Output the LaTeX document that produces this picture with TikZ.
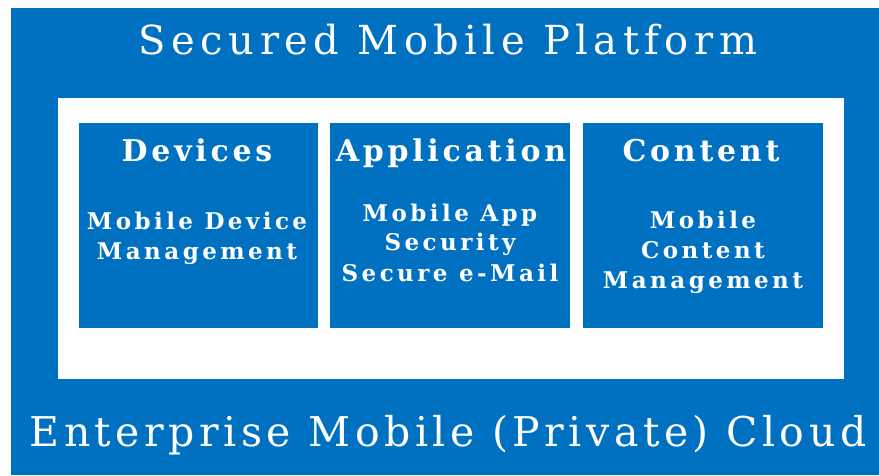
\documentclass[tikz,border=0pt]{standalone}
\usepackage{fontspec}
\setmainfont{DejaVu Serif}
\newfontfamily\titlefont[LetterSpace=13.7]{DejaVu Serif}
\newfontfamily\cloudfont[LetterSpace=11]{DejaVu Serif}
\newfontfamily\boxfont[LetterSpace=15]{DejaVu Serif Bold}
\newfontfamily\headfont[LetterSpace=12.5]{DejaVu Serif Bold}
\definecolor{platblue}{HTML}{0070C0}
\begin{document}
\begin{tikzpicture}[x=1pt,y=-1pt,
  bigtext/.style={text=white,anchor=base,inner sep=0pt,font=\titlefont\fontsize{40}{42}\selectfont},
  cloudtext/.style={text=white,anchor=base,inner sep=0pt,font=\cloudfont\fontsize{41}{43}\selectfont},
  headtext/.style={text=white,anchor=base,inner sep=0pt,font=\headfont\fontsize{30}{32}\selectfont},
  bodytext/.style={text=white,anchor=base,inner sep=0pt,font=\boxfont\fontsize{23}{25}\selectfont},
  area/.style={draw=none,fill=platblue}]
\useasboundingbox (0,0) rectangle (879,475);
\fill[white] (0,0) rectangle (879,475);
\fill[platblue] (11,8) rectangle (879,475);
\fill[white] (58,98) rectangle (844,379);
\fill[area] (79,123) rectangle (318,328);
\fill[area] (330,123) rectangle (570,328);
\fill[area] (583,123) rectangle (823,328);
\node[bigtext] (title) at (448,54) {Secured Mobile Platform};
\node[cloudtext] (cloud) at (448,446) {Enterprise Mobile (Private) Cloud};
\node[headtext] (devh) at (197,161) {Devices};
\node[headtext] (apph) at (451,161) {Application};
\node[headtext] (conh) at (701,161) {Content};
\node[bodytext] (dev1) at (197,229) {Mobile Device};
\node[bodytext] (dev2) at (197,259) {Management};
\node[bodytext] (app1) at (450,221) {Mobile App};
\node[bodytext] (app2) at (450,250) {Security};
\node[bodytext] (app3) at (450,281) {Secure e-Mail};
\node[bodytext] (con1) at (703,228) {Mobile};
\node[bodytext] (con2) at (703,258) {Content};
\node[bodytext] (con3) at (703,288) {Management};
\end{tikzpicture}
\end{document}
